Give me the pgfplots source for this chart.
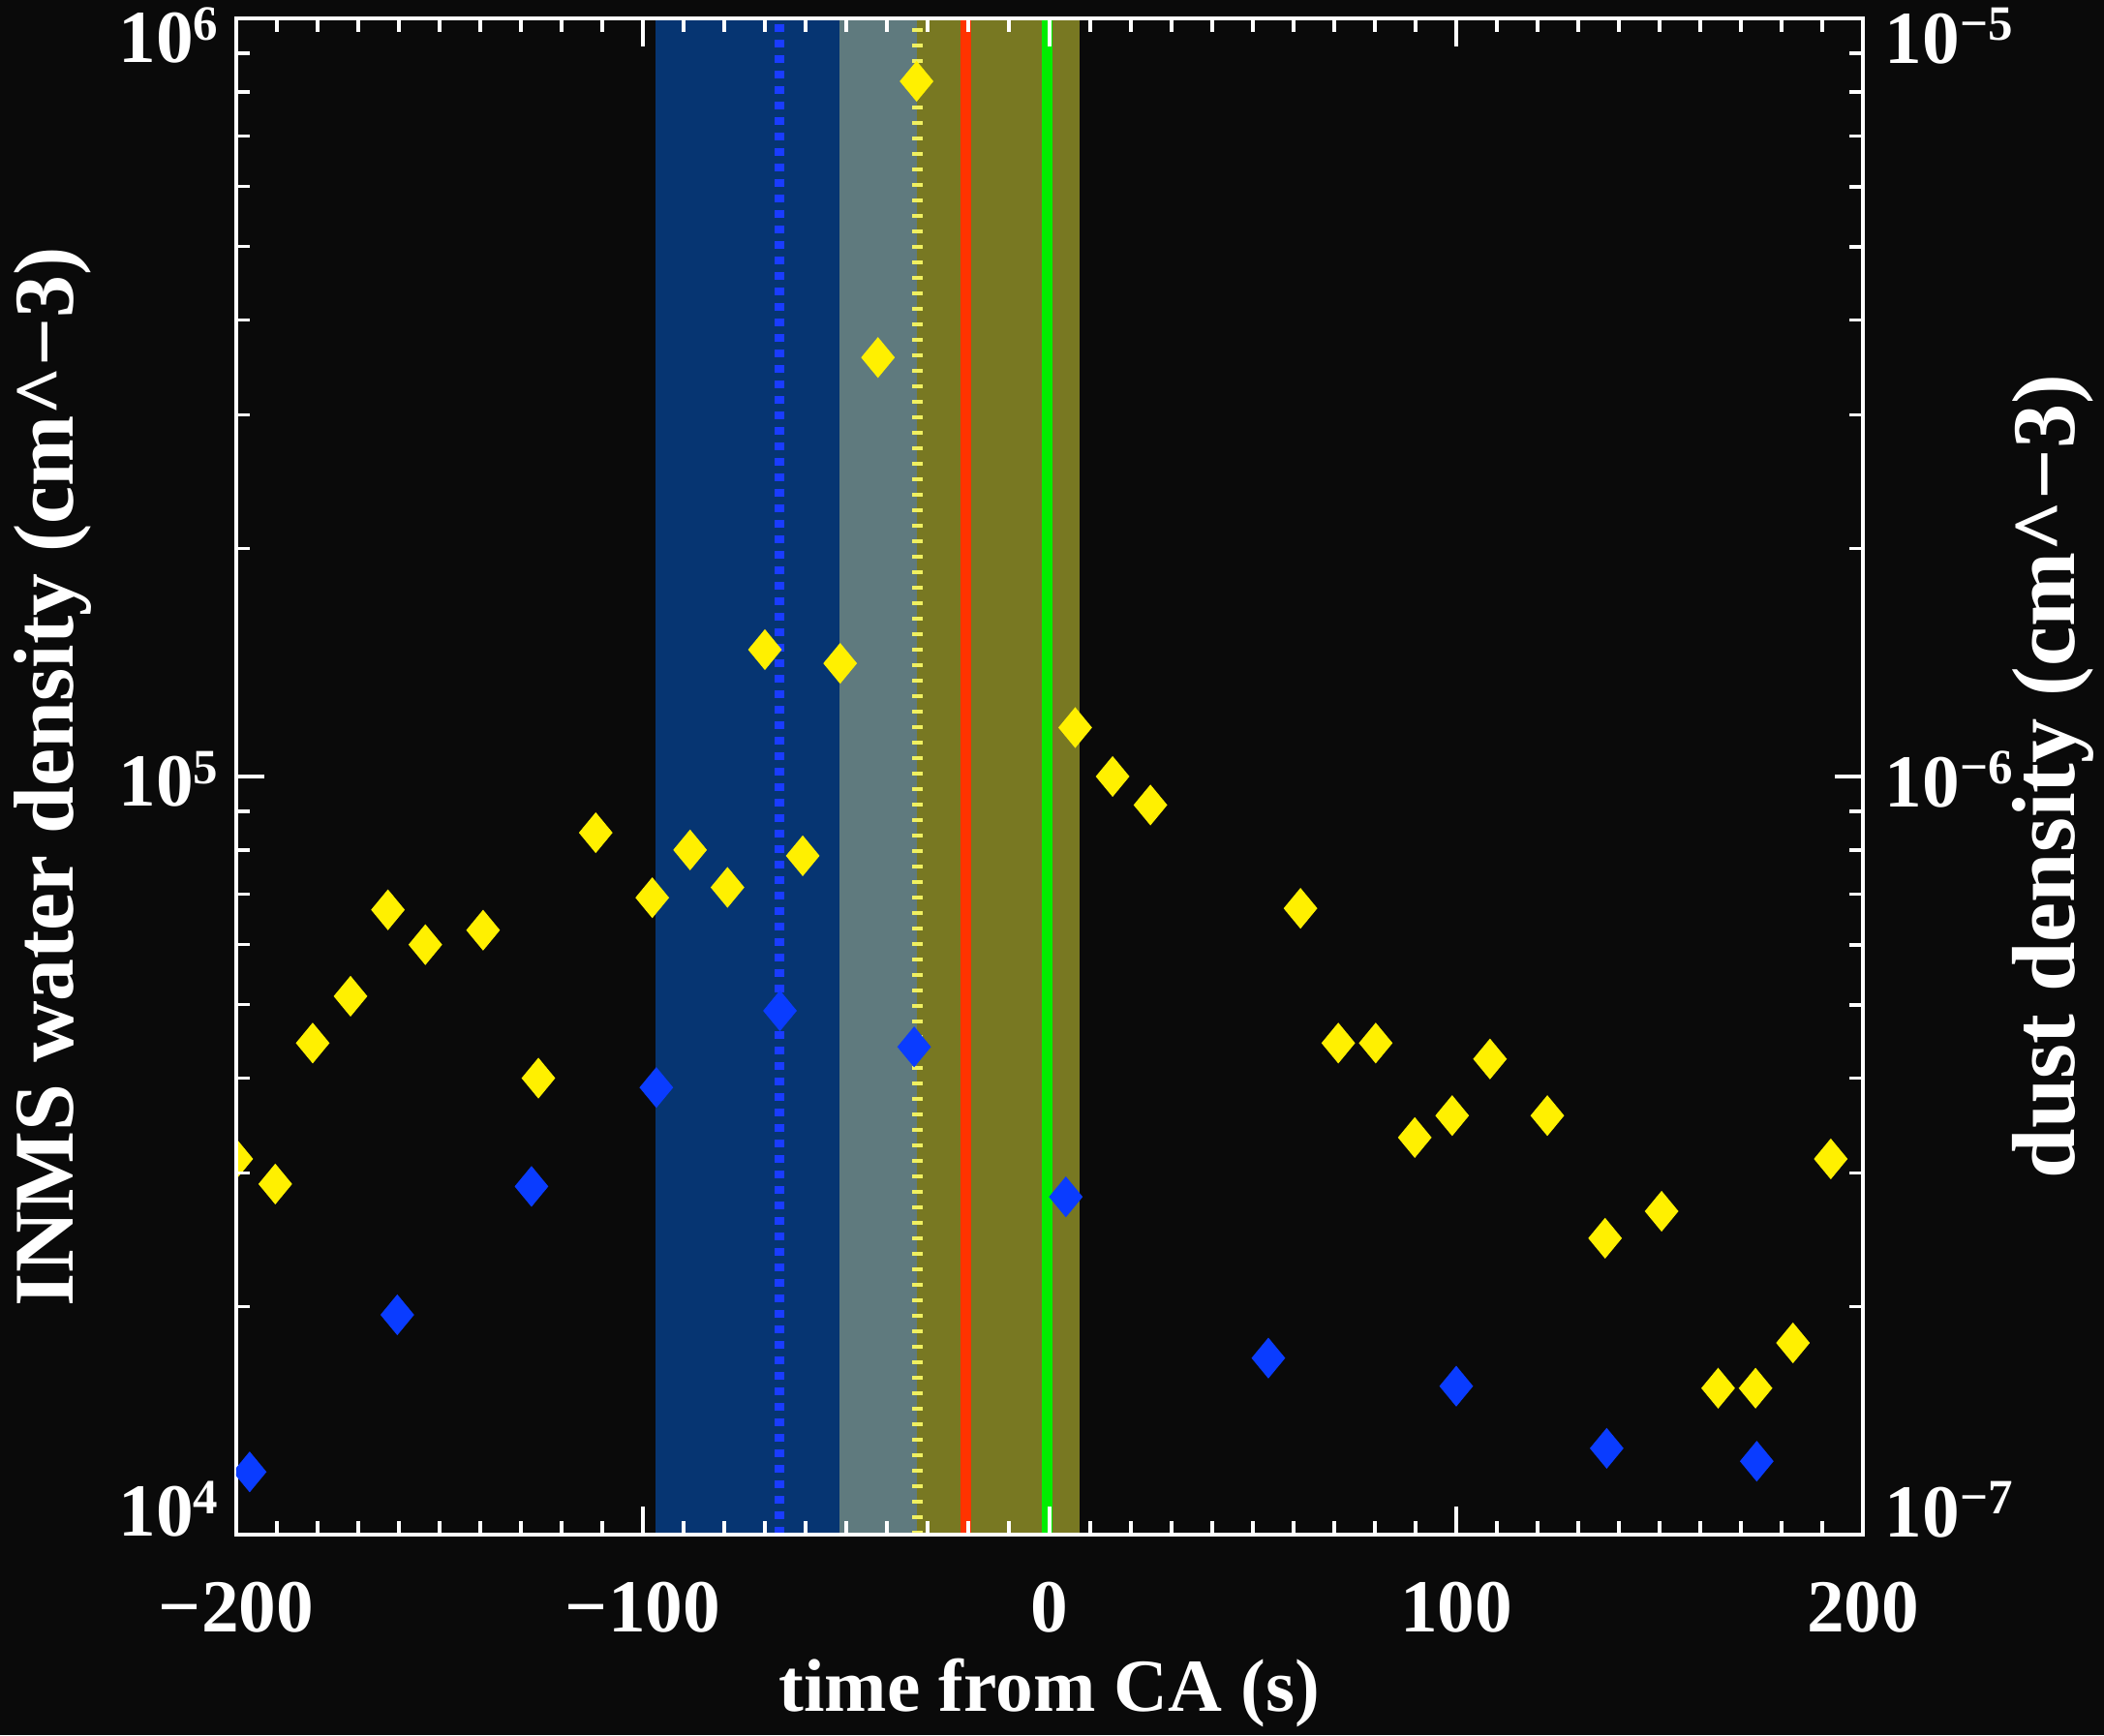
\documentclass[border=0pt]{standalone}
\usepackage{fontspec}
\setmainfont{Liberation Serif}
\usepackage{pgfplots}
\pgfplotsset{compat=1.18}
\definecolor{bg}{HTML}{0A0A0A}
\definecolor{bandblue}{HTML}{063572}
\definecolor{bandgrey}{HTML}{5F7A7E}
\definecolor{bandolive}{HTML}{787822}
\definecolor{lred}{HTML}{FF3300}
\definecolor{lgreen}{HTML}{00EE00}
\definecolor{myyellow}{HTML}{FFF000}
\definecolor{myblue}{HTML}{0A3CFF}
\definecolor{dotblue}{HTML}{1A3CFF}
\definecolor{dotyellow}{HTML}{F0F060}
\newcommand{\tfont}{\fontsize{22}{26}\selectfont\bfseries}
\newcommand{\lfont}{\fontsize{25}{30}\selectfont\bfseries}
\newcommand{\rfont}{\fontsize{26.3}{30}\selectfont\bfseries}
\newcommand{\xfont}{\fontsize{22}{26}\selectfont\bfseries}
% tick label: raise, mantissa, exponent
\newcommand{\tl}[3]{\smash{\raisebox{#1}{#2\raisebox{6.8pt}{\fontsize{14.5}{15}\selectfont #3}}}}
\begin{document}
\begin{tikzpicture}
\path[use as bounding box, fill=bg] (-24.4mm,-20.7mm) rectangle (192.9mm,158.5mm);
\begin{axis}[
  at={(0,0)}, anchor=south west,
  scale only axis, width=168mm, height=156.6mm,
  xmin=-200, xmax=200, ymode=log, ymin=1e4, ymax=1e6,
  axis on top, clip marker paths=true,
  axis line style={white, line width=1pt},
  every tick/.style={white, line width=1pt},
  major tick length=2.9mm, minor tick length=1.4mm,
  xtick={-200,-100,0,100,200},
  xticklabels={−200,−100,0,100,200},
  minor x tick num=9,
  xtick pos=both,
  ytick={1e4,1e5,1e6},
  yticklabels={\tl{-0.2mm}{10}{4},\tl{-3.1mm}{10}{5},\tl{-4.6mm}{10}{6}},
  minor ytick={2e4,3e4,4e4,5e4,6e4,7e4,8e4,9e4,2e5,3e5,4e5,5e5,6e5,7e5,8e5,9e5},
  ytick pos=left,
  tick label style={font=\tfont, text=white},
  xticklabel style={anchor=center, yshift=-7.5mm},
  yticklabel style={anchor=east, inner sep=0pt, xshift=-1.8mm},
  xlabel={time from CA (s)},
  xlabel style={at={(axis description cs:0.5,-0.1047)}, anchor=center, font=\xfont, text=white},
  ylabel={INMS water density (cm\textasciicircum−3)},
  ylabel style={at={(axis description cs:-0.1125,0.5)}, anchor=center, font=\lfont, text=white},
]
% shaded bands
\addplot[fill=bandblue, draw=none] coordinates {(-97,1e4) (-51.7,1e4) (-51.7,1e6) (-97,1e6)} -- cycle;
\addplot[fill=bandgrey, draw=none] coordinates {(-51.7,1e4) (-32.6,1e4) (-32.6,1e6) (-51.7,1e6)} -- cycle;
\addplot[fill=bandolive, draw=none] coordinates {(-32.6,1e4) (7.5,1e4) (7.5,1e6) (-32.6,1e6)} -- cycle;
% vertical lines
\addplot[dotblue, line width=1.0mm, dash pattern=on 0.8mm off 0.8mm] coordinates {(-66.4,1e4) (-66.4,1e6)};
\addplot[dotyellow, line width=1.1mm, dash pattern=on 0.4mm off 1.2mm] coordinates {(-32.6,1e4) (-32.6,1e6)};
\addplot[lred, line width=1.1mm] coordinates {(-20.5,1e4) (-20.5,1e6)};
\addplot[lgreen, line width=1.1mm] coordinates {(-0.5,1e4) (-0.5,1e6)};
% INMS water density
\addplot[only marks, mark=diamond*, mark size=2mm, color=myyellow, mark options={xscale=1.1}] coordinates {
(-200,31300) (-190.4,29000) (-181.2,44500) (-171.9,51300) (-162.7,66700)
(-153.5,60000) (-139.3,62700) (-125.7,40000) (-111.6,84300) (-97.7,69200)
(-88.4,80000) (-79.2,71400) (-70.0,147000) (-60.7,78600) (-51.5,141000)
(-42.2,357000) (-32.7,826000) (6.3,116000) (15.5,100000) (24.8,91700)
(61.7,67000) (71.0,44500) (80.2,44500) (89.8,33400) (99.0,35700)
(108.3,42400) (122.4,35700) (136.6,24600) (150.5,26700) (164.4,15600)
(173.6,15600) (182.8,17900) (192.1,31300)
};
\end{axis}
\begin{axis}[
  at={(0,0)}, anchor=south west,
  scale only axis, width=168mm, height=156.6mm,
  xmin=-200, xmax=200, ymode=log, ymin=1e-7, ymax=1e-5,
  hide x axis, clip marker paths=true,
  axis line style={white, line width=1pt},
  every tick/.style={white, line width=1pt},
  major tick length=2.9mm, minor tick length=1.4mm,
  ytick={1e-7,1e-6,1e-5},
  yticklabels={\tl{-0.2mm}{10}{−7},\tl{-3.1mm}{10}{−6},\tl{-4.6mm}{10}{−5}},
  minor ytick={2e-7,3e-7,4e-7,5e-7,6e-7,7e-7,8e-7,9e-7,2e-6,3e-6,4e-6,5e-6,6e-6,7e-6,8e-6,9e-6},
  ytick pos=right, yticklabel pos=right,
  tick label style={font=\tfont, text=white},
  yticklabel style={anchor=west, inner sep=0pt, xshift=2.2mm},
  ylabel={dust density (cm\textasciicircum−3)},
  ylabel style={at={(axis description cs:1.1167,0.5)}, anchor=center, rotate=0, font=\rfont, text=white},
]
\addplot[only marks, mark=diamond*, mark size=2mm, color=myblue, mark options={xscale=1.1}] coordinates {
(-196.7,1.21e-7) (-160.4,1.95e-7) (-127.4,2.88e-7) (-96.7,3.89e-7) (-66.3,4.91e-7)
(-33.3,4.40e-7) (4.0,2.79e-7) (53.8,1.71e-7) (100.0,1.57e-7) (137.0,1.30e-7)
(173.9,1.25e-7)
};
\end{axis}
\end{tikzpicture}
\end{document}
